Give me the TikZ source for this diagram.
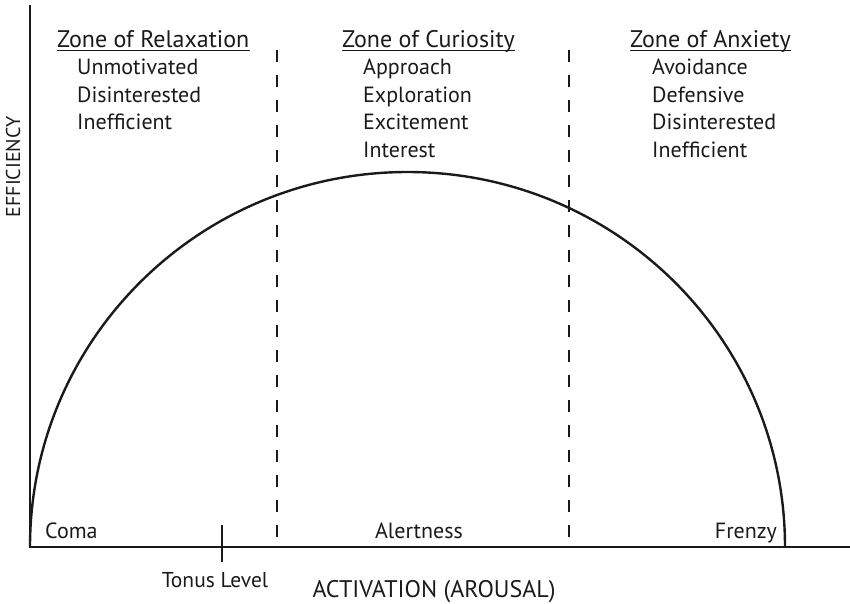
\documentclass[tikz,border=0pt]{standalone}
\usepackage{fontspec}
\setmainfont{PT Sans}
\usepackage{tikz}
\usetikzlibrary{positioning}
\definecolor{ink}{HTML}{1A1A1A}

\begin{document}
\begin{tikzpicture}[x=1pt,y=1pt,
  head/.style={font=\fontsize{24}{28}\selectfont,text=ink,inner sep=0pt,anchor=base west},
  item/.style={font=\fontsize{22}{26}\selectfont,text=ink,inner sep=0pt,anchor=base west},
  lab/.style={font=\fontsize{22}{26}\selectfont,text=ink,inner sep=0pt,anchor=base},
  axlab/.style={font=\fontsize{24}{28}\selectfont,text=ink,inner sep=0pt,anchor=base},
  axis/.style={ink,line width=2pt},
  zone/.style={ink,line width=2pt,dash pattern=on 12pt off 13pt}]
\useasboundingbox (0,0) rectangle (850,-604);
% axes
\coordinate (origin) at (30,-547);
\coordinate (ytop) at (30,-5);
\coordinate (xend) at (850,-547);
\draw[axis] (ytop) -- (origin) -- (xend);
% curve
\draw[ink,line width=2.4pt] (origin) arc[start angle=180,end angle=0,x radius=377.5,y radius=375];
% zone borders
\coordinate (d1top) at (277,-50);
\coordinate (d1bot) at (277,-540);
\coordinate (d2top) at (569,-50);
\coordinate (d2bot) at (569,-540);
\draw[zone] (d1top) -- (d1bot);
\draw[zone] (d2top) -- (d2bot);
% zone headings
\node[head] (relax) at (57,-48) {Zone of Relaxation};
\node[head] (curio) at (342,-48) {Zone of Curiosity};
\node[head] (anx) at (630,-48) {Zone of Anxiety};
\draw[ink,line width=1.2pt] ([yshift=-2.5pt]relax.base west) -- ([yshift=-2.5pt]relax.base east);
\draw[ink,line width=1.2pt] ([yshift=-2.5pt]curio.base west) -- ([yshift=-2.5pt]curio.base east);
\draw[ink,line width=1.2pt] ([yshift=-2.5pt]anx.base west) -- ([yshift=-2.5pt]anx.base east);
% relaxation
\node[item] (r1) at (77,-75) {Unmotivated};
\node[item] (r2) at (77,-102.5) {Disinterested};
\node[item] (r3) at (77,-130) {Inefficient};
% curiosity
\node[item] (c1) at (363,-75) {Approach};
\node[item] (c2) at (363,-102.5) {Exploration};
\node[item] (c3) at (363,-130) {Excitement};
\node[item] (c4) at (363,-157.5) {Interest};
% anxiety
\node[item] (a1) at (652,-75) {Avoidance};
\node[item] (a2) at (652,-102.5) {Defensive};
\node[item] (a3) at (652,-130) {Disinterested};
\node[item] (a4) at (652,-157.5) {Inefficient};
% levels on the axis
\node[lab,anchor=base west] (coma) at (45,-538) {Coma};
\node[lab] (alert) at (419,-538) {Alertness};
\node[lab,anchor=base east] (frenzy) at (777,-538) {Frenzy};
\coordinate (tick top) at (222,-525);
\coordinate (tick bot) at (222,-562);
\draw[axis] (tick top) -- (tick bot);
\node[lab,font=\fontsize{21.5}{26}\selectfont] (tonus) at (215,-587) {Tonus Level};
% axis titles
\node[axlab] (xlab) at (434,-597) {ACTIVATION (AROUSAL)};
\node[axlab,rotate=90,font=\fontsize{20}{24}\selectfont] (ylab) at (20,-167) {EFFICIENCY};
\end{tikzpicture}
\end{document}
